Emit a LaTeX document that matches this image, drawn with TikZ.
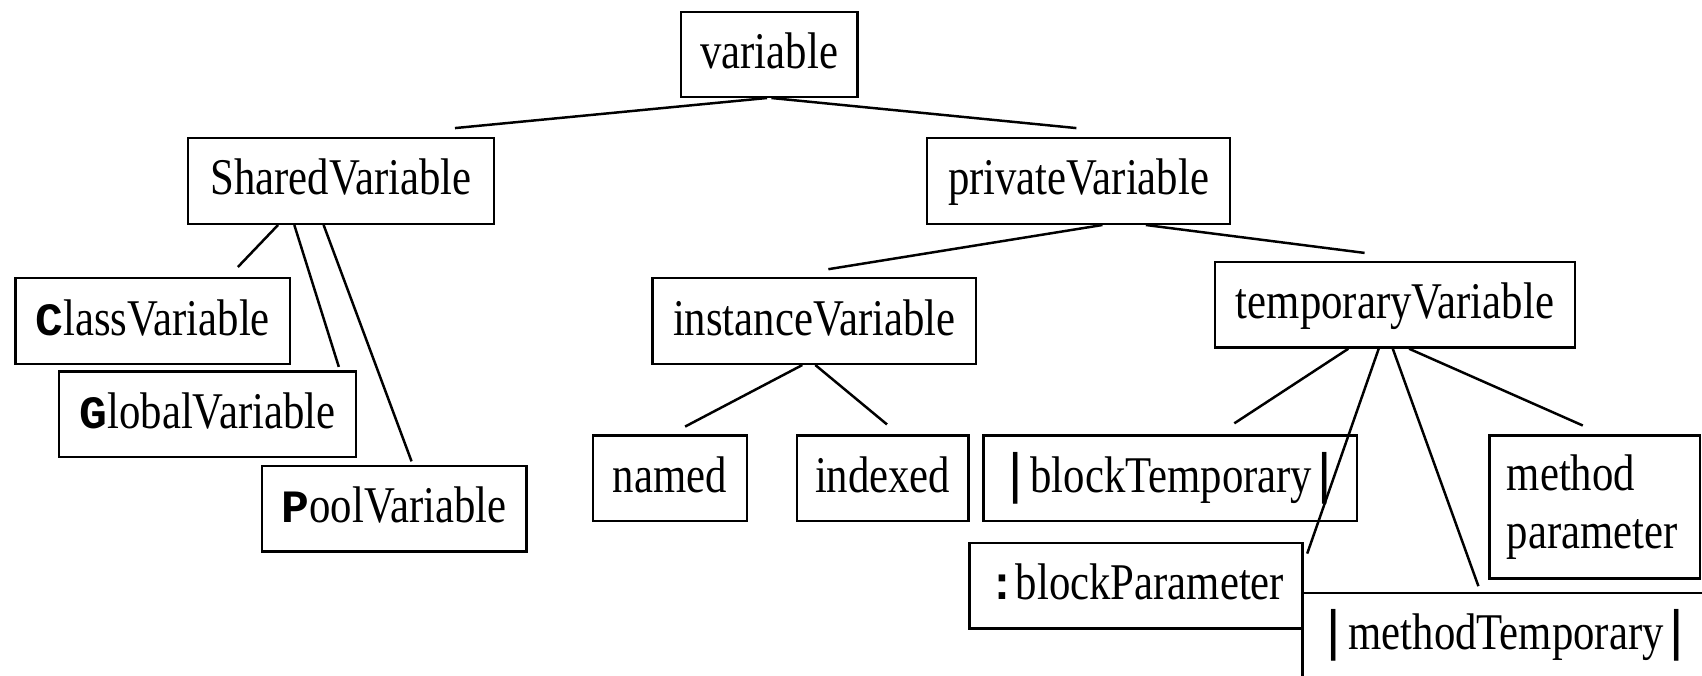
\documentclass[tikz,border=0pt]{standalone}
\usepackage{fontspec}
\setmainfont{Liberation Serif}[FakeStretch=0.83]
\newfontfamily\firstfont{Liberation Mono}[Scale=0.9]
\newfontfamily\barfont{Liberation Sans}
\usetikzlibrary{calc}
\newdimen\upx \upx=0.02cm
\newcommand{\fl}[1]{{\firstfont\bfseries #1}}
\newcommand{\vbar}{{\barfont\fontsize{29}{32}\selectfont|}}
\newcommand{\lbar}{\vbar\kern7\upx}
\newcommand{\rbar}{\kern5\upx\vbar}
\tikzset{
  box/.style={draw, line width=1.3pt, anchor=north west, inner sep=0pt,
    minimum height=79\upx, text height=40\upx, text depth=14\upx, align=center},
  link/.style={line width=1.3pt}
}
\begin{document}
\begin{tikzpicture}[x=0.02cm, y=-0.02cm, font=\fontsize{27}{32}\selectfont]
\useasboundingbox (0,0) rectangle (1568,622);
\clip (0,0) rectangle (1568,622);
\fill[white] (0,0) rectangle (1568,622);
% nodes
\node[box, minimum width=163\upx, minimum height=78\upx] (v) at (626,10) {variable};
\node[box, minimum width=282\upx] (sv) at (172,126) {SharedVariable};
\node[box, minimum width=279\upx] (pv) at (853,126) {privateVariable};
\node[box, minimum width=253\upx] (cv) at (13,255) {\fl{C}lassVariable};
\node[box, minimum width=274\upx] (gv) at (53,341) {\fl{G}lobalVariable};
\node[box, minimum width=244\upx] (pool) at (240,428) {\fl{P}oolVariable};
\node[box, minimum width=298\upx] (iv) at (600,255) {instanceVariable};
\node[box, minimum width=332\upx] (tv) at (1118,240) {temporaryVariable};
\node[box, minimum width=142\upx] (named) at (545,400) {named};
\node[box, minimum width=158\upx] (indexed) at (733,400) {indexed};
\node[box, minimum width=344\upx] (bt) at (905,400) {\lbar blockTemporary\rbar};
\node[draw, line width=1.3pt, anchor=north west, minimum width=194\upx, minimum height=132\upx,
  inner xsep=16\upx, inner ysep=0pt, align=left, text width=162\upx,
  font=\fontsize{27}{53\upx}\selectfont] (mp) at (1371,400) {method\\parameter};
\node[box, minimum width=307\upx] (bp) at (892,499) {\fl{:}blockParameter};
\node[draw, line width=1.3pt, anchor=north west, inner xsep=22\upx, inner ysep=0pt,
  text height=52\upx, text depth=100\upx] (mt) at (1199,545) {\lbar methodTemporary\rbar\kern90\upx\relax};
% connectors
\draw[link] ($(v.south)+(-2,0)$) -- ($(sv.north)+(105,-8)$);
\draw[link] ($(v.south)+(2,0)$) -- ($(pv.north)+(-2,-8)$);
\draw[link] ($(pv.south)+(22,0)$) -- ($(iv.north)+(13,-7)$);
\draw[link] ($(pv.south)+(62,0)$) -- ($(tv.north)+(-28,-7)$);
\draw[link] ($(sv.south)+(-58,0)$) -- ($(cv.north)+(78.5,-9)$);
\draw[link] ($(sv.south)+(-43,0)$) -- ($(gv.north)+(121,-3)$);
\draw[link] ($(sv.south)+(-16,0)$) -- ($(pool.north)+(16,-3)$);
\draw[link] ($(iv.south)+(-11,0)$) -- ($(named.north)+(14,-7)$);
\draw[link] ($(iv.south)+(1,0)$) -- ($(indexed.north)+(4,-9)$);
\draw[link] ($(tv.south)+(-43,0)$) -- ($(bt.north)+(59,-10)$);
\draw[link] ($(tv.south)+(-15,0)$) -- ($(bp.north east)+(3,11)$);
\draw[link] ($(tv.south)+(-2,0)$) -- ($(mt.north west)+(163,-5)$);
\draw[link] ($(tv.south)+(13,0)$) -- ($(mp.north)+(-11,-8)$);
\end{tikzpicture}
\end{document}
